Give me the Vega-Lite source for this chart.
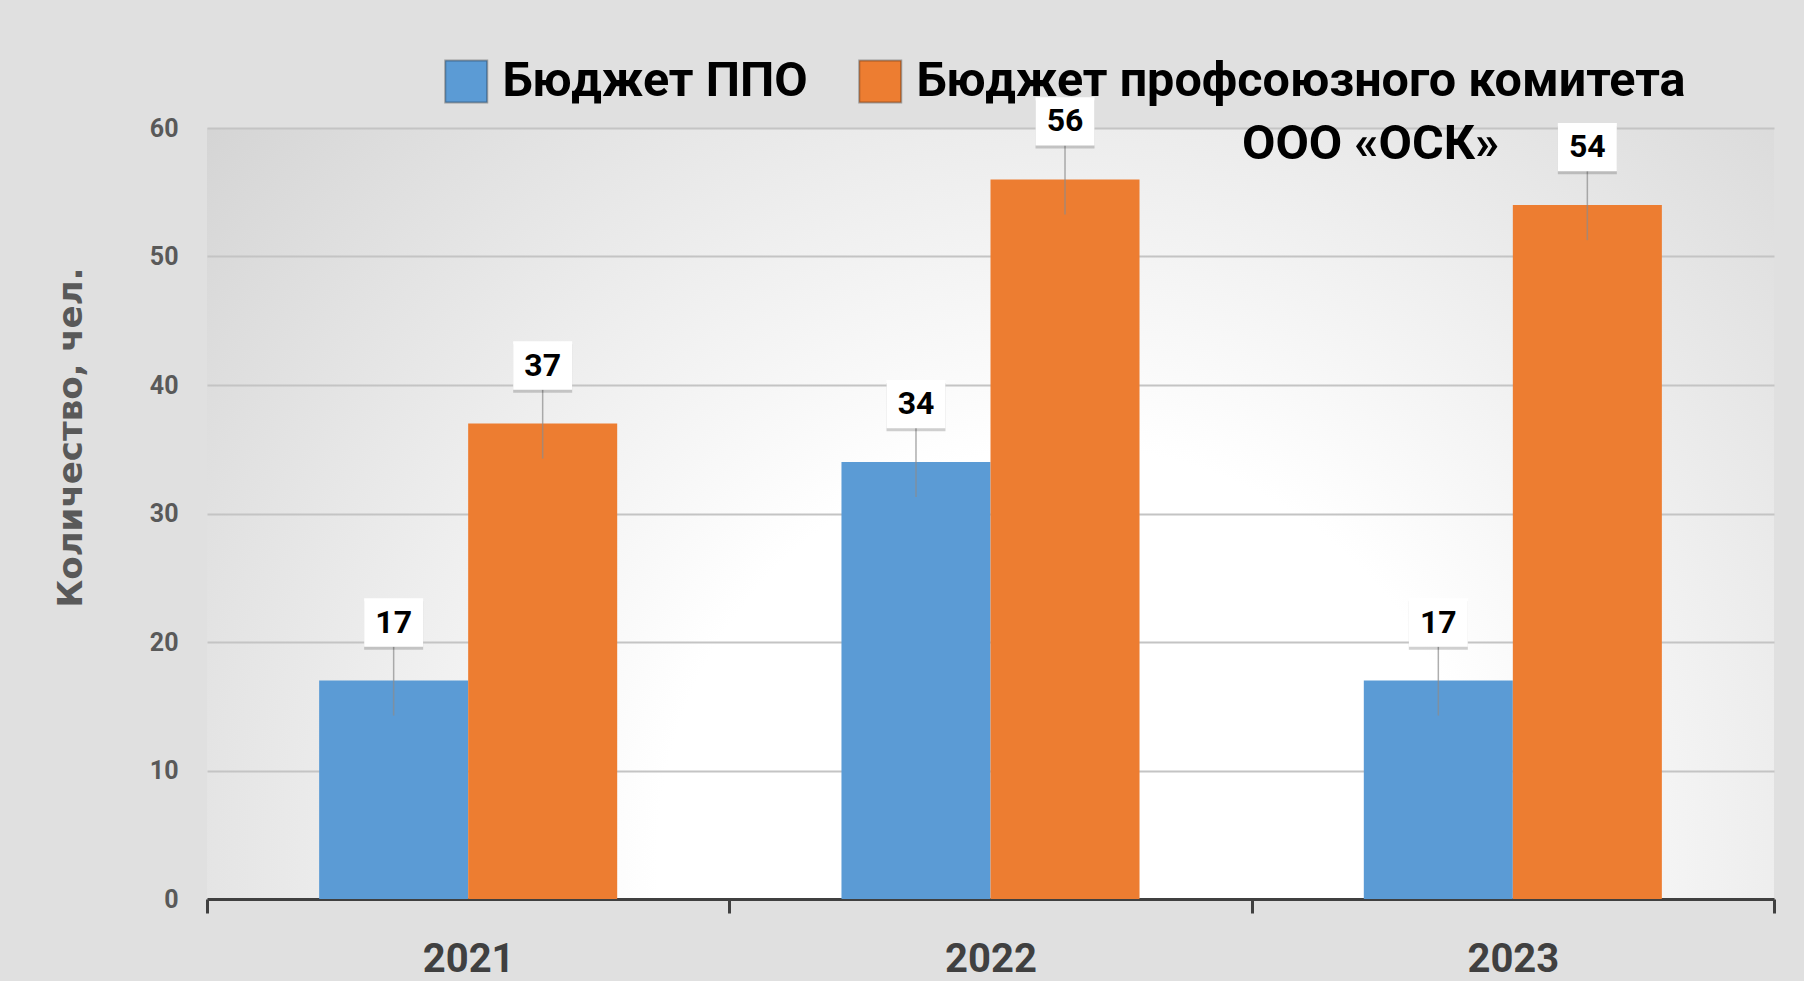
{
  "$schema": "https://vega.github.io/schema/vega-lite/v6.json",
  "width": 1567,
  "height": 771,
  "autosize": {"type": "none"},
  "padding": {"left": 207, "top": 128, "right": 30, "bottom": 82},
  "background": "#e0e0e0",
  "data": {
    "values": [
      {"year": "2021", "series": "Бюджет ППО", "value": 17},
      {"year": "2021", "series": "Бюджет профсоюзного комитета ООО «ОСК»", "value": 37},
      {"year": "2022", "series": "Бюджет ППО", "value": 34},
      {"year": "2022", "series": "Бюджет профсоюзного комитета ООО «ОСК»", "value": 56},
      {"year": "2023", "series": "Бюджет ППО", "value": 17},
      {"year": "2023", "series": "Бюджет профсоюзного комитета ООО «ОСК»", "value": 54}
    ]
  },
  "encoding": {
    "x": {
      "field": "year", "type": "nominal",
      "scale": {"paddingInner": 0, "paddingOuter": 0},
      "axis": {
        "title": null, "labelAngle": 0, "grid": false,
        "labelFont": "Roboto", "labelFontSize": 40, "labelFontWeight": "bold", "labelColor": "#404040",
        "labelBaseline": "alphabetic", "labelPadding": 58,
        "domainColor": "#404040", "domainWidth": 3,
        "tickColor": "#404040", "tickWidth": 3, "tickSize": 14, "tickBand": "extent"
      }
    },
    "xOffset": {
      "field": "series", "type": "nominal",
      "sort": ["Бюджет ППО", "Бюджет профсоюзного комитета ООО «ОСК»"],
      "scale": {"paddingInner": 0, "paddingOuter": 0.7525}
    },
    "y": {
      "field": "value", "type": "quantitative",
      "scale": {"domain": [0, 60], "nice": false},
      "axis": {
        "values": [0, 10, 20, 30, 40, 50, 60],
        "grid": true, "gridColor": "#c4c4c4", "gridWidth": 2,
        "domain": false, "ticks": false,
        "labelFont": "Roboto", "labelFontSize": 25, "labelFontWeight": "bold", "labelColor": "#595959",
        "labelPadding": 29,
        "title": "Количество, чел.",
        "titleFont": "DejaVu Sans", "titleFontSize": 34, "titleFontWeight": "bold", "titleColor": "#595959",
        "titleX": -136, "titleY": 309, "titleAngle": 270, "titleAlign": "center", "titleBaseline": "middle"
      }
    }
  },
  "layer": [
    {
      "mark": {"type": "bar"},
      "encoding": {
        "color": {
          "field": "series", "type": "nominal",
          "sort": ["Бюджет ППО", "Бюджет профсоюзного комитета ООО «ОСК»"],
          "scale": {"domain": ["Бюджет ППО", "Бюджет профсоюзного комитета ООО «ОСК»"], "range": ["#5b9bd5", "#ed7d31"]},
          "legend": {
            "orient": "none", "legendX": 235, "legendY": -71, "direction": "horizontal",
            "title": null, "padding": 0,
            "symbolType": "square", "symbolSize": 1764,
            "symbolStrokeColor": "rgba(0,0,0,0.3)", "symbolStrokeWidth": 2,
            "labelFont": "Roboto", "labelFontSize": 48.5, "labelFontWeight": "bold", "labelColor": "#000000",
            "labelOffset": 12, "columnPadding": 47, "labelLimit": 0,
            "labelExpr": "datum.label == 'Бюджет ППО' ? ['Бюджет ППО', ''] : ['Бюджет профсоюзного комитета', '\u200b\u00a0\u00a0\u00a0\u00a0\u00a0\u00a0\u00a0\u00a0\u00a0\u00a0\u00a0\u00a0\u00a0\u00a0\u00a0\u00a0\u00a0\u00a0\u00a0\u00a0\u00a0\u00a0\u00a0\u00a0\u00a0\u00a0\u00a0ООО «ОСК»']",
            "encode": {"labels": {"update": {"lineHeight": {"value": 63}}}}
          }
        }
      }
    },
    {
      "mark": {"type": "rule", "color": "#8c8c8c", "strokeWidth": 1.5, "opacity": 0.7, "yOffset": -34, "y2Offset": 35},
      "encoding": {"y2": {"field": "value"}}
    },
    {
      "mark": {"type": "point", "shape": "M-1,-0.82H1V0.82H-1Z", "filled": true, "size": 3481, "color": "#000000", "opacity": 0.18, "yOffset": -55, "xOffset": 4}
    },
    {
      "mark": {"type": "point", "shape": "M-1,-0.82H1V0.82H-1Z", "filled": true, "size": 3481, "color": "#ffffff", "opacity": 1, "yOffset": -58}
    },
    {
      "mark": {"type": "text", "font": "Roboto", "fontSize": 32, "fontWeight": "bold", "color": "#000000", "baseline": "middle", "align": "center", "yOffset": -58},
      "encoding": {"text": {"field": "value", "type": "quantitative"}}
    }
  ],
  "config": {
    "view": {
      "stroke": null,
      "fill": {
        "gradient": "radial",
        "x1": 0.55, "y1": 0.72, "r1": 0,
        "x2": 0.55, "y2": 0.72, "r2": 0.75,
        "stops": [
          {"offset": 0, "color": "#ffffff"},
          {"offset": 0.35, "color": "#ffffff"},
          {"offset": 1, "color": "#d2d2d2"}
        ]
      }
    }
  }
}
